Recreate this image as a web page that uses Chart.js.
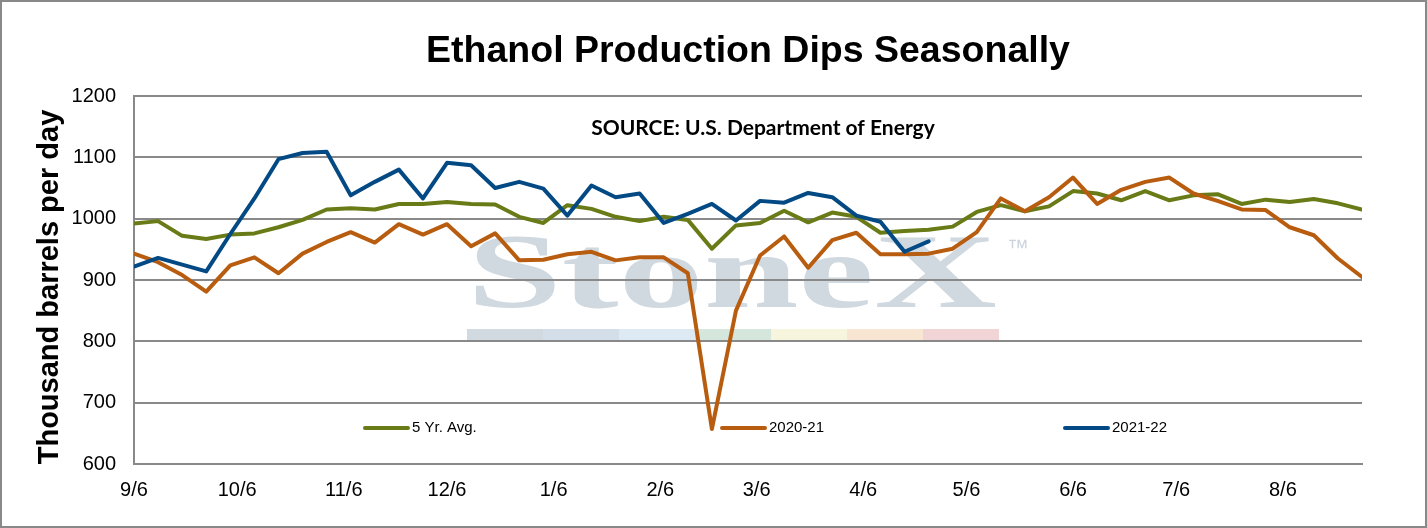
<!DOCTYPE html>
<html>
<head>
<meta charset="utf-8">
<title>Ethanol Production Dips Seasonally</title>
<script src="https://cdn.jsdelivr.net/npm/chart.js@4.4.1/dist/chart.umd.min.js"></script>
<style>
  html, body { margin: 0; padding: 0; background: #fff; }
  #wrap { width: 1427px; height: 528px; }
</style>
</head>
<body>
<div id="wrap"><canvas id="ethanol" width="1427" height="528"></canvas></div>
<script>
// month ticks, as days after 9/6
const tickDays = [0, 30, 61, 91, 122, 153, 181, 212, 242, 273, 303, 334];
const tickLabels = ['9/6', '10/6', '11/6', '12/6', '1/6', '2/6', '3/6', '4/6', '5/6', '6/6', '7/6', '8/6'];

// weekly production, thousand barrels per day
const avg5yr = [
    992, 996, 972, 967, 974, 976, 986, 998, 1015, 1017,
    1015, 1024, 1024, 1027, 1024, 1023, 1003, 993, 1022, 1016,
    1003, 996, 1003, 998, 951, 989, 993, 1013, 994, 1010,
    1003, 977, 980, 982, 987, 1011, 1022, 1012, 1020, 1045,
    1041, 1030, 1045, 1030, 1038, 1040, 1024, 1031, 1027, 1032,
    1025, 1015
];
const prod2020 = [
    943, 929, 908, 881, 924, 937, 911, 943, 962, 978,
    961, 991, 974, 991, 955, 976, 932, 933, 942, 946,
    932, 937, 937, 911, 657, 850, 940, 971, 920, 965,
    977, 942, 942, 943, 951, 978, 1033, 1012, 1035, 1067,
    1024, 1047, 1060, 1067, 1041, 1029, 1015, 1014, 986, 973,
    935, 905
];
const prod2021 = [
    922, 936, 925, 914, 975, 1033, 1097, 1107, 1109, 1038,
    1060, 1080, 1033, 1091, 1087, 1050, 1060, 1049, 1005, 1054,
    1035, 1041, 993, 1008, 1024, 997, 1029, 1026, 1042, 1035,
    1005, 995, 946, 963
];

const weekly = arr => arr.map((v, i) => ({ x: i * 7, y: v }));

Chart.defaults.font.family = "'Liberation Sans', Arial, sans-serif";
Chart.defaults.color = '#000';

const gridGray = '#898989';

// watermark, source note, axis title, legend and frame
const decor = {
    id: 'decor',
    beforeDraw(chart) {
        const ctx = chart.ctx;
        ctx.save();
        ctx.fillStyle = '#d0d8e0';
        ctx.font = 'bold 106px "Liberation Serif", serif';
        ctx.textBaseline = 'alphabetic';
        const w = ctx.measureText('StoneX').width;
        ctx.translate(467, 307);
        ctx.scale(530 / w, 1);
        ctx.fillText('StoneX', 0, 0);
        ctx.restore();

        ctx.save();
        ctx.fillStyle = '#cbd3dc';
        ctx.font = '22px "Liberation Sans", sans-serif';
        ctx.textBaseline = 'top';
        ctx.fillText('\u2122', 1007, 238);
        const band = ['#d1d9e1', '#d4dee8', '#deeaf3', '#d5e6dd', '#f7f5dd', '#f8e6d3', '#f1d4d6'];
        band.forEach((c, i) => {
            ctx.fillStyle = c;
            ctx.fillRect(467 + i * 76, 329, 76, 12);
        });
        ctx.restore();
    },
    afterDraw(chart) {
        const ctx = chart.ctx;
        ctx.save();

        ctx.fillStyle = '#000';
        ctx.font = 'bold 21px Lato, "Open Sans", sans-serif';
        ctx.textAlign = 'center';
        ctx.textBaseline = 'middle';
        ctx.fillText('SOURCE: U.S. Department of Energy', 763, 128);

        ctx.save();
        ctx.translate(50, 287);
        ctx.rotate(-Math.PI / 2);
        ctx.font = 'bold 29px "Liberation Sans", Arial, sans-serif';
        ctx.fillText('Thousand barrels per day', 0, 0);
        ctx.restore();

        // legend sits inside the plot, spread out like the original
        const legendX = [365, 722, 1065];
        const legendY = 428;
        ctx.font = '15px "Liberation Sans", Arial, sans-serif';
        ctx.textAlign = 'left';
        chart.data.datasets.forEach((ds, i) => {
            const x = legendX[i];
            ctx.strokeStyle = ds.borderColor;
            ctx.lineWidth = 4;
            ctx.lineCap = 'round';
            ctx.beginPath();
            ctx.moveTo(x, legendY);
            ctx.lineTo(x + 43, legendY);
            ctx.stroke();
            ctx.fillStyle = '#000';
            ctx.fillText(ds.label, x + 47, legendY);
        });

        ctx.strokeStyle = gridGray;
        ctx.lineWidth = 2;
        ctx.strokeRect(1, 1, chart.width - 2, chart.height - 2);
        ctx.restore();
    }
};

const ctx = document.getElementById('ethanol');

// eslint-disable-next-line no-unused-vars
const ethanolChart = new Chart(ctx, {
    type: 'line',
    data: {
        datasets: [{
            label: '5 Yr. Avg.',
            data: weekly(avg5yr),
            borderColor: '#687b17',
            order: 3
        }, {
            label: '2020-21',
            data: weekly(prod2020),
            borderColor: '#b85d10',
            order: 2
        }, {
            label: '2021-22',
            data: weekly(prod2021),
            borderColor: '#034a85',
            order: 1
        }]
    },
    options: {
        responsive: false,
        animation: false,
        devicePixelRatio: 1,
        layout: {
            padding: { left: 0, right: 65, top: 0, bottom: 0 }
        },
        elements: {
            line: {
                borderWidth: 4,
                tension: 0,
                borderJoinStyle: 'round',
                borderCapStyle: 'round',
                fill: false
            },
            point: { radius: 0, hoverRadius: 0 }
        },
        plugins: {
            legend: { display: false },
            tooltip: { enabled: false },
            title: {
                display: true,
                fullSize: false,
                text: 'Ethanol Production Dips Seasonally',
                color: '#000',
                font: { size: 37.5, weight: 'bold' },
                padding: { top: 29, bottom: 22 }
            }
        },
        scales: {
            x: {
                type: 'linear',
                min: 0,
                max: 357,
                afterBuildTicks: scale => {
                    scale.ticks = tickDays.map(v => ({ value: v }));
                },
                afterFit: scale => { scale.height = 64; },
                grid: { display: false, drawTicks: false },
                border: { display: true, color: gridGray, width: 2 },
                ticks: {
                    autoSkip: false,
                    maxRotation: 0,
                    padding: 14,
                    font: { size: 20 },
                    color: '#000',
                    callback: v => tickLabels[tickDays.indexOf(v)]
                }
            },
            y: {
                min: 600,
                max: 1200,
                afterFit: scale => { scale.width = 134; },
                grid: { color: gridGray, lineWidth: 2, drawTicks: false },
                border: { display: true, color: gridGray, width: 2 },
                ticks: {
                    stepSize: 100,
                    padding: 18,
                    font: { size: 20 },
                    color: '#000',
                    callback: v => String(v)
                }
            }
        }
    },
    plugins: [decor]
});
</script>
</body>
</html>
